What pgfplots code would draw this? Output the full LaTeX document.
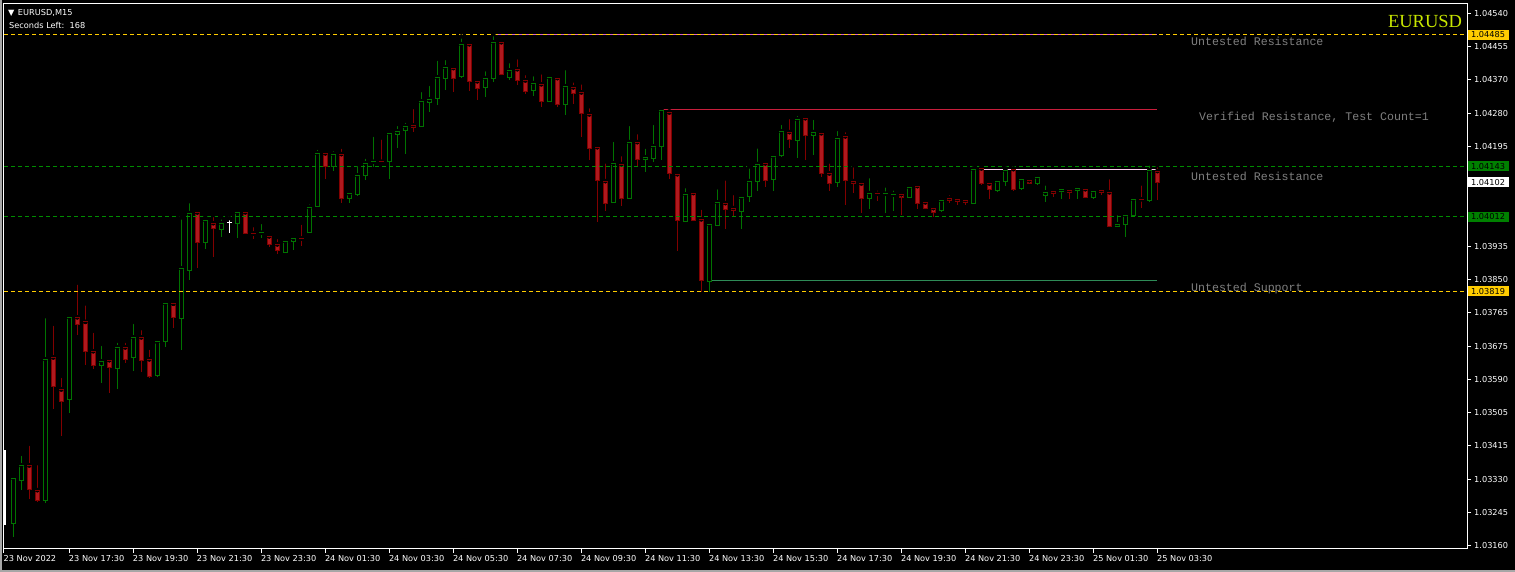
\documentclass[border=0pt]{standalone}
\usepackage{fontspec}
\setmainfont{DejaVu Sans}
\newfontfamily\monofont{Liberation Mono}
\newfontfamily\seriffont{Liberation Serif}
\usepackage{pgfplots}
\usepackage{pgfplotstable}
\pgfplotsset{compat=1.18}

\definecolor{upgreen}{RGB}{0,115,0}
\definecolor{dnline}{RGB}{130,0,0}
\definecolor{dnfill}{RGB}{175,25,30}
\definecolor{gold}{RGB}{255,204,0}
\definecolor{dashgreen}{RGB}{0,140,0}
\definecolor{zonepink}{RGB}{215,90,215}
\definecolor{zonered}{RGB}{200,30,60}
\definecolor{zonelight}{RGB}{255,205,240}
\definecolor{zonegreen}{RGB}{46,139,87}
\definecolor{txtgray}{RGB}{128,128,128}
\definecolor{eurusd}{RGB}{200,230,0}
\definecolor{boxgreen}{RGB}{0,128,0}
\newcommand\tickfont{\fontsize{8.2}{9.8}\selectfont}

% bullish candles: index, open, high, low, close
\pgfplotstableread{
i o h l c
0 1.03218 1.03341 1.03183 1.03335
1 1.03329 1.03398 1.03304 1.03368
4 1.03277 1.03755 1.03270 1.03643
7 1.03540 1.03762 1.03503 1.03752
11 1.03628 1.03683 1.03581 1.03638
13 1.03619 1.03691 1.03567 1.03674
15 1.03648 1.03740 1.03614 1.03700
18 1.03600 1.03693 1.03598 1.03688
19 1.03690 1.03797 1.03676 1.03788
21 1.03750 1.04011 1.03667 1.03879
22 1.03873 1.04053 1.03849 1.04022
24 1.03947 1.04011 1.03929 1.04004
26 1.03980 1.04011 1.03961 1.03996
28 1.03996 1.04035 1.03958 1.04024
31 1.03971 1.03999 1.03958 1.03971
34 1.03921 1.03949 1.03921 1.03949
35 1.03949 1.03957 1.03927 1.03957
37 1.03972 1.04050 1.03970 1.04037
38 1.04039 1.04191 1.04037 1.04177
40 1.04144 1.04188 1.04132 1.04175
42 1.04060 1.04082 1.04049 1.04072
43 1.04070 1.04149 1.04067 1.04120
44 1.04120 1.04168 1.04109 1.04151
45 1.04155 1.04225 1.04142 1.04155
47 1.04155 1.04235 1.04111 1.04229
48 1.04226 1.04253 1.04192 1.04234
49 1.04236 1.04261 1.04176 1.04247
51 1.04246 1.04341 1.04246 1.04312
52 1.04309 1.04357 1.04285 1.04317
53 1.04319 1.04422 1.04303 1.04374
54 1.04372 1.04424 1.04342 1.04400
56 1.04377 1.04480 1.04372 1.04460
59 1.04348 1.04395 1.04324 1.04372
60 1.04372 1.04486 1.04361 1.04465
62 1.04374 1.04416 1.04367 1.04392
65 1.04340 1.04382 1.04325 1.04359
67 1.04312 1.04377 1.04309 1.04374
69 1.04304 1.04398 1.04277 1.04351
75 1.04050 1.04212 1.04050 1.04151
77 1.04061 1.04253 1.04058 1.04206
79 1.04162 1.04194 1.04128 1.04167
80 1.04164 1.04256 1.04154 1.04195
81 1.04195 1.04294 1.04159 1.04289
84 1.04001 1.04092 1.04001 1.04071
87 1.03845 1.03998 1.03818 1.03993
88 1.03991 1.04089 1.03991 1.04050
91 1.04027 1.04063 1.03980 1.04063
92 1.04066 1.04143 1.04050 1.04105
93 1.04105 1.04195 1.04079 1.04149
95 1.04110 1.04180 1.04079 1.04169
96 1.04172 1.04256 1.04167 1.04234
98 1.04211 1.04279 1.04164 1.04265
100 1.04224 1.04269 1.04172 1.04232
103 1.04102 1.04240 1.04089 1.04216
107 1.04061 1.04118 1.04032 1.04074
109 1.04072 1.04094 1.04022 1.04072
110 1.04070 1.04086 1.04027 1.04070
112 1.04063 1.04099 1.04061 1.04089
116 1.04029 1.04055 1.04024 1.04055
120 1.04048 1.04138 1.04045 1.04136
123 1.04081 1.04107 1.04076 1.04105
124 1.04105 1.04138 1.04092 1.04133
126 1.04086 1.04120 1.04081 1.04110
128 1.04099 1.04123 1.04094 1.04115
129 1.04068 1.04099 1.04050 1.04076
131 1.04079 1.04082 1.04058 1.04082
133 1.04081 1.04094 1.04058 1.04086
135 1.04063 1.04086 1.04058 1.04079
138 1.03988 1.04022 1.03985 1.03993
139 1.03993 1.04024 1.03959 1.04016
140 1.04016 1.04068 1.04014 1.04058
142 1.04055 1.04151 1.04050 1.04133
}\up

% bearish candles: index, open, high, low, close
\pgfplotstableread{
i o h l c
2 1.03368 1.03424 1.03282 1.03306
3 1.03304 1.03374 1.03272 1.03277
5 1.03648 1.03735 1.03515 1.03572
6 1.03565 1.03600 1.03443 1.03534
8 1.03752 1.03842 1.03705 1.03733
9 1.03740 1.03788 1.03629 1.03664
10 1.03664 1.03717 1.03617 1.03628
12 1.03641 1.03641 1.03557 1.03623
14 1.03674 1.03691 1.03634 1.03643
16 1.03700 1.03724 1.03610 1.03640
17 1.03643 1.03673 1.03595 1.03598
20 1.03787 1.03792 1.03724 1.03752
23 1.04024 1.04024 1.03881 1.03947
25 1.03996 1.04017 1.03909 1.03983
29 1.04024 1.04035 1.03967 1.03970
30 1.03969 1.03991 1.03956 1.03969
32 1.03962 1.03962 1.03933 1.03941
33 1.03941 1.03960 1.03917 1.03926
36 1.03956 1.03997 1.03937 1.03956
39 1.04177 1.04181 1.04111 1.04144
41 1.04175 1.04194 1.04049 1.04061
46 1.04155 1.04218 1.04151 1.04155
50 1.04249 1.04297 1.04231 1.04245
55 1.04398 1.04400 1.04337 1.04372
57 1.04460 1.04460 1.04339 1.04364
58 1.04364 1.04364 1.04316 1.04346
61 1.04465 1.04468 1.04379 1.04382
63 1.04395 1.04426 1.04353 1.04366
64 1.04366 1.04385 1.04332 1.04338
66 1.04356 1.04387 1.04296 1.04312
68 1.04372 1.04382 1.04296 1.04304
70 1.04348 1.04366 1.04305 1.04333
71 1.04335 1.04361 1.04220 1.04281
72 1.04278 1.04299 1.04159 1.04190
73 1.04193 1.04193 1.03998 1.04107
74 1.04105 1.04156 1.04028 1.04048
76 1.04149 1.04175 1.04041 1.04061
78 1.04206 1.04232 1.04143 1.04162
82 1.04283 1.04286 1.04110 1.04125
83 1.04123 1.04123 1.03925 1.04004
85 1.04074 1.04076 1.04004 1.04004
86 1.04006 1.04036 1.03818 1.03848
89 1.04048 1.04112 1.03980 1.04032
90 1.04035 1.04074 1.04012 1.04029
94 1.04151 1.04159 1.04089 1.04107
97 1.04232 1.04271 1.04190 1.04213
99 1.04268 1.04271 1.04159 1.04224
101 1.04229 1.04232 1.04115 1.04125
102 1.04125 1.04156 1.04079 1.04099
104 1.04221 1.04237 1.04042 1.04107
105 1.04105 1.04146 1.04074 1.04099
106 1.04099 1.04105 1.04022 1.04061
108 1.04072 1.04086 1.04053 1.04072
111 1.04071 1.04079 1.04016 1.04063
113 1.04092 1.04102 1.04032 1.04048
114 1.04050 1.04058 1.04032 1.04035
115 1.04035 1.04040 1.04011 1.04024
117 1.04061 1.04074 1.04048 1.04055
118 1.04058 1.04063 1.04042 1.04053
119 1.04055 1.04061 1.04042 1.04050
121 1.04138 1.04141 1.04094 1.04099
122 1.04099 1.04110 1.04058 1.04084
125 1.04136 1.04138 1.04079 1.04084
127 1.04107 1.04118 1.04097 1.04099
130 1.04079 1.04086 1.04063 1.04074
132 1.04081 1.04081 1.04058 1.04076
134 1.04084 1.04094 1.04061 1.04063
136 1.04081 1.04084 1.04068 1.04076
137 1.04076 1.04115 1.03985 1.03988
141 1.04058 1.04099 1.04035 1.04058
143 1.04131 1.04146 1.04055 1.04102
}\down

\pgfplotstableread{
i o h l c
27 1.03997 1.04009 1.03971 1.03997
}\whitebar

\pgfplotsset{
  wick/.style={forget plot, only marks, mark=none, error bars/.cd, y dir=minus, y explicit, error mark=none, error bar style={line width=1pt, draw=#1}},
  body/.style 2 args={forget plot, only marks, mark=none, error bars/.cd, y dir=minus, y explicit, error mark=none, error bar style={line width=#2, draw=#1, line cap=butt}},
  edge/.style={forget plot, only marks, mark=-, mark size=2.5pt, mark options={line width=1pt, draw=#1, solid}},
  hline/.style={forget plot, line width=1pt, mark=none},
}

\begin{document}
\begin{tikzpicture}[x=1pt,y=1pt]
\fill[black] (0,0) rectangle (1515,572);
\fill[black!35] (0,0) rectangle (1515,2);
\fill[black!35] (0,0) rectangle (1.5,572);
\begin{axis}[
  at={(4pt,23pt)}, anchor=south west,
  width=1463pt, height=545pt, scale only axis,
  xmin=-1.16, xmax=181.7,
  ymin=1.031514, ymax=1.045641,
  clip=false,
  axis line style={draw=white, line width=1pt},
  tick align=outside, major tick length=4pt,
  tick style={white, line width=1pt},
  xtick pos=bottom, ytick pos=right, yticklabel pos=right,
  xtick={-1.16,7,15,23,31,39,47,55,63,71,79,87,95,103,111,119,127,135,143},
  xticklabels={23 Nov 2022, 23 Nov 17:30, 23 Nov 19:30, 23 Nov 21:30, 23 Nov 23:30, 24 Nov 01:30, 24 Nov 03:30, 24 Nov 05:30, 24 Nov 07:30, 24 Nov 09:30, 24 Nov 11:30, 24 Nov 13:30, 24 Nov 15:30, 24 Nov 17:30, 24 Nov 19:30, 24 Nov 21:30, 24 Nov 23:30, 25 Nov 01:30, 25 Nov 03:30},
  ytick={1.0316,1.0324625,1.033325,1.0341875,1.03505,1.0359125,1.036775,1.0376375,1.0385,1.0393625,1.040225,1.0410875,1.04195,1.0428125,1.043675,1.0445375,1.0454},
  yticklabels={1.03160,1.03245,1.03330,1.03415,1.03505,1.03590,1.03675,1.03765,1.03850,1.03935,{},{},1.04195,1.04280,1.04370,1.04455,1.04540},
  xticklabel style={anchor=north west, inner sep=0pt, text=white, font=\tickfont, xshift=-0.5pt, yshift=-2.5pt},
  yticklabel style={anchor=west, inner sep=0pt, text=white, font=\tickfont, xshift=3pt},
  scaled y ticks=false,
]
% zone lines (behind the level lines)
\addplot[hline, zonepink] coordinates {(60,1.04485) (143,1.04485)};
\addplot[hline, zonered] coordinates {(81,1.04291) (143,1.04291)};
\addplot[hline, zonelight] coordinates {(121,1.04136) (143,1.04136)};
\addplot[hline, zonegreen] coordinates {(87,1.03848) (143,1.03848)};

% bullish candles
\addplot[wick=upgreen] table[x=i, y=h, y error minus expr={\thisrow{h}-\thisrow{l}}]{\up};
\addplot[body={upgreen}{5pt}] table[x=i, y=c, y error minus expr={\thisrow{c}-\thisrow{o}}]{\up};
\addplot[body={black}{3pt}] table[x=i, y=c, y error minus expr={\thisrow{c}-\thisrow{o}}]{\up};
\addplot[edge=upgreen] table[x=i, y=o]{\up};
\addplot[edge=upgreen] table[x=i, y=c]{\up};
% bearish candles
\addplot[wick=dnline] table[x=i, y=h, y error minus expr={\thisrow{h}-\thisrow{l}}]{\down};
\addplot[body={dnline}{5pt}] table[x=i, y=o, y error minus expr={\thisrow{o}-\thisrow{c}}]{\down};
\addplot[body={dnfill}{3pt}] table[x=i, y=o, y error minus expr={\thisrow{o}-\thisrow{c}}]{\down};
\addplot[edge=dnline] table[x=i, y=o]{\down};
\addplot[edge=dnline] table[x=i, y=c]{\down};
% white doji
\addplot[wick=white] table[x=i, y=h, y error minus expr={\thisrow{h}-\thisrow{l}}]{\whitebar};
\addplot[edge=white] table[x=i, y=o]{\whitebar};

% level lines
\addplot[hline, gold, dash pattern=on 4pt off 3pt] coordinates {(-1.16,1.04485) (181.7,1.04485)};
\addplot[hline, dashgreen, dash pattern=on 4pt off 3pt] coordinates {(-1.16,1.04143) (181.7,1.04143)};
\addplot[hline, dashgreen, dash pattern=on 4pt off 3pt] coordinates {(-1.16,1.04012) (181.7,1.04012)};
\addplot[hline, gold, dash pattern=on 4pt off 3pt] coordinates {(-1.16,1.03819) (181.7,1.03819)};
% white marker on the left edge
\addplot[hline, white, line width=1.5pt] coordinates {(-1.02,1.03408) (-1.02,1.03214)};

% zone captions
\node[anchor=base west, inner sep=0pt, text=txtgray, font=\monofont\fontsize{11.6}{13}\selectfont] at (axis cs:147.2,1.044553) {Untested Resistance};
\node[anchor=base west, inner sep=0pt, text=txtgray, font=\monofont\fontsize{11.6}{13}\selectfont] at (axis cs:148.2,1.042616) {Verified Resistance, Test Count=1};
\node[anchor=base west, inner sep=0pt, text=txtgray, font=\monofont\fontsize{11.6}{13}\selectfont] at (axis cs:147.2,1.041061) {Untested Resistance};
\node[anchor=base west, inner sep=0pt, text=txtgray, font=\monofont\fontsize{11.6}{13}\selectfont] at (axis cs:147.2,1.038189) {Untested Support};
% symbol caption
\node[anchor=east, inner sep=0pt, text=eurusd, font=\seriffont\fontsize{18.5}{20}\selectfont] at (axis cs:181.1,1.045196) {EURUSD};

% price boxes
\node[anchor=west, fill=gold, text=black, minimum width=41pt, minimum height=10pt, inner sep=0pt, font=\tickfont] at (axis cs:181.75,1.04485) {1.04485};
\node[anchor=west, fill=boxgreen, text=black, minimum width=41pt, minimum height=10pt, inner sep=0pt, font=\tickfont] at (axis cs:181.75,1.04143) {1.04143};
\node[anchor=west, fill=white, text=black, minimum width=41pt, minimum height=10pt, inner sep=0pt, font=\tickfont] at (axis cs:181.75,1.04102) {1.04102};
\node[anchor=west, fill=boxgreen, text=black, minimum width=41pt, minimum height=10pt, inner sep=0pt, font=\tickfont] at (axis cs:181.75,1.04012) {1.04012};
\node[anchor=west, fill=gold, text=black, minimum width=41pt, minimum height=10pt, inner sep=0pt, font=\tickfont] at (axis cs:181.75,1.03819) {1.03819};
\end{axis}
\node[anchor=west, inner sep=0pt, text=white, font=\tickfont] at (8,559.5) {▼\hspace{3.5pt}EURUSD,M15};
\node[anchor=west, inner sep=0pt, text=white, font=\tickfont] at (9,546.5) {Seconds Left:\ \ 168};
\end{tikzpicture}
\end{document}
